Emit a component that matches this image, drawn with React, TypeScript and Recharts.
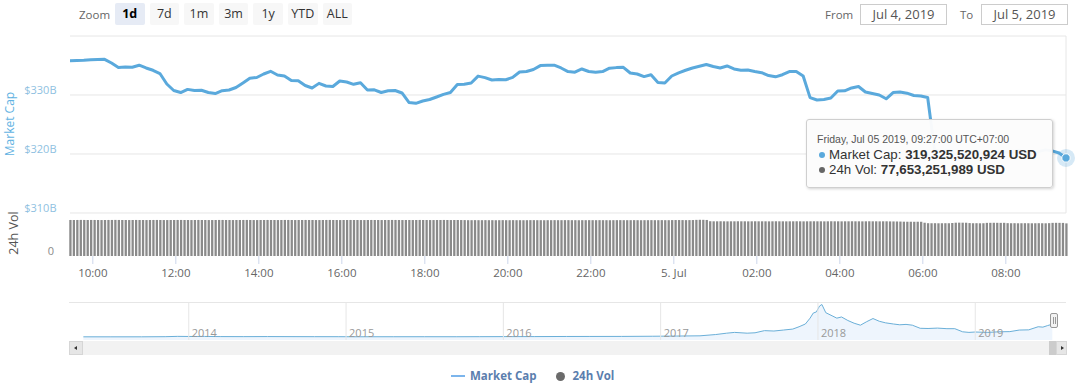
import React from 'react';
import {
  ComposedChart,
  Line,
  Bar,
  XAxis,
  YAxis,
  ReferenceLine,
  AreaChart,
  Area,
} from 'recharts';

// ---------- DATA ----------
// time axis: minutes since Jul 4 2019 00:00, 5-minute samples from 09:27
const START_MINUTE = 567;
const STEP_MINUTES = 5;

// Market cap (billions USD), one value every 10 minutes
const marketCapB = [
  335.81, 335.85, 335.88, 335.97, 336.03, 336.05, 335.42, 334.66, 334.75, 334.71,
  335.05, 334.58, 334.19, 333.64, 331.86, 330.76, 330.42, 330.95, 330.76, 330.8,
  330.42, 330.25, 330.73, 330.85, 331.27, 332.03, 332.85, 332.97, 333.56, 334.02,
  333.39, 333.22, 332.46, 332.42, 331.61, 331.19, 331.97, 331.53, 331.44, 332.37,
  332.2, 331.81, 332.07, 330.85, 330.88, 330.42, 330.71, 330.76, 330.34, 328.73,
  328.59, 328.98, 329.24, 329.66, 330.1, 330.42, 331.78, 331.83, 332.03, 333.2,
  332.95, 332.54, 332.63, 332.59, 332.98, 333.9, 333.98, 334.32, 334.98, 335.05,
  335.05, 334.58, 333.97, 333.86, 334.41, 333.98, 333.85, 333.97, 334.54, 334.64,
  334.69, 333.73, 333.56, 333.12, 333.42, 332.12, 332.03, 333.22, 333.76, 334.19,
  334.58, 334.88, 335.17, 334.83, 334.58, 334.92, 334.41, 334.19, 334.24, 333.98,
  333.78, 333.29, 333.08, 333.44, 333.97, 333.98, 333.22, 329.56, 329.15, 329.24,
  329.49, 330.68, 330.71, 331.19, 331.44, 330.51, 330.25, 330.0, 329.36, 330.42,
  330.51, 330.31, 329.92, 329.83, 329.58, 320.68, 320.3, 320.6, 320.1, 319.8,
  320.2, 320.5, 320.0, 319.7, 320.1, 320.4, 320.2, 320.6, 320.3, 320.0,
  320.4, 320.7, 320.54, 320.17, 319.33,
];

// 24h volume (billions USD), one value every 5 minutes
const volumeB = [
  85.8, 85.7, 85.8, 85.9, 85.8, 85.7, 85.8, 85.8, 85.7, 85.6, 85.7, 85.8, 85.8, 85.9, 85.8, 85.7, 85.7,
  85.6, 85.7, 85.8, 85.7, 85.7, 85.6, 85.7, 85.8, 85.8, 85.7, 85.6, 85.6, 85.7, 85.7, 85.8, 85.8, 85.7,
  85.7, 85.6, 85.7, 85.8, 85.7, 85.7, 85.6, 85.6, 85.7, 85.8, 85.8, 85.7, 85.7, 85.6, 85.7, 85.7, 85.8,
  85.8, 85.7, 85.6, 85.6, 85.7, 85.7, 85.8, 85.7, 85.7, 85.6, 85.7, 85.8, 85.8, 85.7, 85.6, 85.7, 85.7,
  85.8, 85.7, 85.7, 85.6, 85.6, 85.7, 85.8, 85.8, 85.7, 85.7, 85.6, 85.7, 85.7, 85.8, 85.7, 85.7, 85.6,
  85.6, 85.7, 85.8, 85.7, 85.7, 85.6, 85.7, 85.7, 85.8, 85.8, 85.7, 85.6, 85.7, 85.7, 85.6, 85.7, 85.8,
  85.7, 85.7, 85.6, 85.6, 85.7, 85.7, 85.8, 85.7, 85.6, 85.7, 85.7, 85.6, 85.5, 85.3, 85.3, 85.4, 85.3,
  85.3, 85.4, 85.3, 85.3, 85.2, 85.3, 85.4, 85.3, 85.3, 85.4, 85.3, 85.3, 85.2, 85.3, 85.4, 85.4, 85.3,
  85.3, 85.2, 85.3, 85.3, 85.4, 85.3, 85.3, 85.4, 85.4, 85.3, 85.3, 85.2, 85.3, 85.3, 85.4, 85.3, 85.3,
  85.4, 85.3, 85.3, 85.2, 85.3, 85.4, 85.4, 85.3, 85.3, 85.3, 85.4, 85.3, 85.2, 85.3, 85.3, 85.4, 85.3,
  85.3, 85.4, 85.3, 85.3, 85.5, 85.6, 85.6, 85.5, 85.4, 85.5, 85.6, 86.0, 86.2, 86.1, 85.8, 82.8, 82.6,
  82.6, 82.7, 82.6, 82.5, 82.6, 82.6, 82.7, 82.6, 82.6, 82.5, 82.6, 82.7, 82.6, 82.6, 82.6, 82.5, 82.6,
  82.7, 82.6, 82.6, 82.5, 82.6, 82.6, 82.7, 82.6, 82.5, 82.6, 82.6, 82.7, 82.6, 82.6, 82.5, 82.6, 82.7,
  82.6, 82.6, 82.5, 82.6, 82.6, 82.7, 82.6, 82.6, 82.5, 82.6, 82.7, 82.6, 82.6, 82.5, 82.6, 82.6, 82.4,
  82.3, 82.2, 82.0, 81.7, 81.6, 81.6, 81.5, 81.6, 81.5, 79.2, 78.1, 78.0, 78.1, 77.9, 78.0, 78.1, 78.0,
  78.6, 79.3, 79.4, 79.3, 79.2, 78.4, 78.0, 78.1, 77.9, 78.0, 78.9, 79.0, 79.1, 79.0, 78.9, 79.0, 78.2,
  78.0, 78.1, 77.9, 78.0, 78.1, 78.0, 77.9, 78.0, 78.1, 78.0, 77.9, 78.2, 78.9, 79.0, 78.9, 78.8, 77.7,
];

const timeTicks = [600, 720, 840, 960, 1080, 1200, 1320, 1440, 1560, 1680, 1800, 1920];
const timeTickLabels = ['10:00', '12:00', '14:00', '16:00', '18:00', '20:00', '22:00', '5. Jul', '02:00', '04:00', '06:00', '08:00'];
const priceGridValues = [340, 330, 320, 310];
const priceGridLabels = ['', '$330B', '$320B', '$310B'];
const volTickValue = 0;
const volTickLabel = '0';

// Navigator: total market cap history (year fraction, billions USD)
const navYears = [
  2013.33, 2013.5, 2013.7, 2013.85, 2013.93, 2014.0, 2014.1, 2014.2, 2014.35, 2014.5,
  2014.65, 2014.8, 2014.95, 2015.05, 2015.3, 2015.5, 2015.7, 2015.85, 2016.0, 2016.2,
  2016.4, 2016.55, 2016.75, 2016.95, 2017.1, 2017.25, 2017.35, 2017.42, 2017.47, 2017.55,
  2017.6, 2017.66, 2017.72, 2017.78, 2017.84, 2017.88, 2017.92, 2017.95, 2017.97, 2017.99,
  2018.01, 2018.025, 2018.05, 2018.09, 2018.12, 2018.15, 2018.19, 2018.23, 2018.27, 2018.31,
  2018.35, 2018.39, 2018.43, 2018.48, 2018.52, 2018.56, 2018.6, 2018.65, 2018.7, 2018.76,
  2018.82, 2018.87, 2018.92, 2018.96, 2019.0, 2019.08, 2019.15, 2019.22, 2019.28, 2019.34,
  2019.4, 2019.43, 2019.46, 2019.49,
];
const navCapB = [
  1.5, 1.2, 1.6, 5.0, 13.0, 10.5, 11.0, 7.5, 6.5, 7.8,
  6.5, 5.2, 4.5, 3.2, 3.4, 3.7, 3.5, 5.2, 6.8, 7.5,
  10.5, 11.0, 12.0, 16.5, 21, 27, 60, 95, 115, 95,
  105, 160, 150, 175, 200, 260, 330, 480, 610, 640,
  790, 830, 620, 540, 480, 510, 420, 350, 300, 390,
  470, 400, 360, 330, 310, 320, 300, 220, 215, 225,
  210, 210, 130, 115, 125, 115, 130, 135, 175, 180,
  260, 250, 290, 325,
];
const navYearTicks = [2014, 2015, 2016, 2017, 2018, 2019];

const rangeButtons = ['1d', '7d', '1m', '3m', '1y', 'YTD', 'ALL'];
const selectedRange = '1d';

// ---------- STYLE ----------
const FONT = '"Open Sans", "DejaVu Sans", sans-serif';
const TIP_FONT = '"Liberation Sans", Arial, sans-serif';
const LINE = '#5aa9dc';
const BAR = '#8a8a8a';
const GRID = '#e6e6e6';

const mainData = volumeB.map((v, i) => ({
  t: START_MINUTE + i * STEP_MINUTES,
  vol: v,
  mcap: i % 2 === 0 ? marketCapB[i / 2] : null,
}));
const LAST = mainData.length - 1;
const navData = navYears.map((y, i) => ({ year: y, cap: navCapB[i] }));

const sideLabel = (text: string, color: string, dy: number, dx: number) => (props: any) => {
  const vb = props.viewBox || {};
  if (!text) return <g />;
  return (
    <text x={(vb.x ?? 70) - dx} y={(vb.y ?? 0) - dy} textAnchor="end" dominantBaseline="central" fill={color} fontSize={11} fontFamily={FONT}>
      {text}
    </text>
  );
};

const renderDot = (p: any) => {
  if (p.index !== LAST || p.cx == null || p.cy == null) return <g key={`d${p.index}`} />;
  return (
    <g key="last-dot">
      <circle cx={p.cx} cy={p.cy} r={9} fill={LINE} fillOpacity={0.25} />
      <circle cx={p.cx} cy={p.cy} r={4.2} fill={LINE} stroke="#fff" strokeWidth={1} />
    </g>
  );
};

const abs = (s: React.CSSProperties): React.CSSProperties => ({ position: 'absolute', ...s });

const Bullet = ({ color, top }: { color: string; top: number }) => (
  <div style={abs({ left: 11.5, top, width: 6, height: 6, borderRadius: '50%', background: color })} />
);

export default function App() {
  return (
    <div style={abs({ left: 0, top: 0, width: 1080, height: 384, background: '#fff', fontFamily: FONT, overflow: 'hidden' })}>
      {/* main chart: price + volume panes */}
      <div style={abs({ left: 0, top: 0 })}>
        <ComposedChart width={1080} height={280} data={mainData} margin={{ top: 36, right: 14, bottom: 0, left: 70 }}>
          <XAxis
            dataKey="t"
            type="number"
            domain={[567, 2007]}
            ticks={timeTicks}
            interval={0}
            tickFormatter={(v: number) => timeTickLabels[timeTicks.indexOf(v)]}
            height={24}
            tickSize={8}
            tickMargin={5}
            axisLine={false}
            tickLine={{ stroke: '#ccd6eb' }}
            tick={{ fill: '#666', fontSize: 11.5, fontFamily: FONT }}
          />
          <YAxis yAxisId="p" type="number" domain={[302.71, 340]} ticks={priceGridValues} hide />
          <YAxis yAxisId="v" type="number" domain={[0, 523.8]} ticks={[volTickValue]} hide />
          {priceGridValues.map((v, i) => (
            <ReferenceLine
              key={v}
              yAxisId="p"
              y={v}
              stroke={GRID}
              strokeWidth={1}
              label={sideLabel(priceGridLabels[i], '#8fc1e1', 5.5, 13.5)}
            />
          ))}
          <ReferenceLine
            yAxisId="v"
            y={volTickValue}
            stroke="none"
            strokeOpacity={0}
            label={sideLabel(volTickLabel, '#8a8a8a', 6, 16)}
          />
          <ReferenceLine yAxisId="p" segment={[{ x: 2007, y: 310 }, { x: 2007, y: 340 }]} stroke={GRID} strokeWidth={1} />
          <Bar yAxisId="v" dataKey="vol" fill={BAR} barSize={2.3} isAnimationActive={false} />
          <Line
            yAxisId="p"
            dataKey="mcap"
            type="linear"
            stroke={LINE}
            strokeWidth={3}
            strokeLinejoin="round"
            connectNulls
            dot={renderDot}
            activeDot={false}
            isAnimationActive={false}
          />
        </ComposedChart>
      </div>

      {/* axis titles */}
      <div style={abs({ left: 10 - 60, top: 124 - 8, width: 120, height: 16, lineHeight: '16px', textAlign: 'center', transform: 'rotate(-90deg)', color: '#62b2e2', fontSize: 12 })}>
        Market Cap
      </div>
      <div style={abs({ left: 14 - 40, top: 233 - 9, width: 80, height: 18, lineHeight: '18px', textAlign: 'center', transform: 'rotate(-90deg)', color: '#555', fontSize: 12.5 })}>
        24h Vol
      </div>

      {/* range selector */}
      <div style={abs({ left: 79, top: 6, lineHeight: '17px', fontSize: 11.5, color: '#666' })}>Zoom</div>
      {rangeButtons.map((b, i) => (
        <div
          key={b}
          style={abs({
            left: 115 + i * 34.6,
            top: 3,
            width: 29.5,
            height: 22,
            lineHeight: '22px',
            textAlign: 'center',
            background: b === selectedRange ? '#e6ebf5' : '#f7f7f7',
            borderRadius: 2,
            fontSize: 12.5,
            fontWeight: b === selectedRange ? 700 : 400,
            color: b === selectedRange ? '#000' : '#333',
          })}
        >
          {b}
        </div>
      ))}

      {/* date inputs */}
      <div style={abs({ left: 825, top: 6, lineHeight: '17px', fontSize: 11.5, color: '#666' })}>From</div>
      <div style={abs({ left: 860, top: 4, width: 87, height: 21, boxSizing: 'border-box', border: '1px solid #cccccc', lineHeight: '19px', textAlign: 'center', fontSize: 13, color: '#555' })}>
        Jul 4, 2019
      </div>
      <div style={abs({ left: 960, top: 6, lineHeight: '17px', fontSize: 11.5, color: '#666' })}>To</div>
      <div style={abs({ left: 981, top: 4, width: 87, height: 21, boxSizing: 'border-box', border: '1px solid #cccccc', lineHeight: '19px', textAlign: 'center', fontSize: 13, color: '#555' })}>
        Jul 5, 2019
      </div>

      {/* tooltip */}
      <div style={abs({ left: 806, top: 119, width: 247, height: 69, boxSizing: 'border-box', background: 'rgba(252,252,252,0.97)', border: '1px solid #cfcfcf', borderRadius: 3, boxShadow: '1px 1px 3px rgba(0,0,0,0.18)', fontFamily: TIP_FONT })}>
        <div style={abs({ left: 10, top: 13, lineHeight: '13px', fontSize: 10.5, color: '#555', whiteSpace: 'nowrap' })}>
          Friday, Jul 05 2019, 09:27:00 UTC+07:00
        </div>
        <Bullet color={LINE} top={31.5} />
        <div style={abs({ left: 22, top: 27.5, lineHeight: '14px', fontSize: 13.3, color: '#333', whiteSpace: 'nowrap' })}>
          Market Cap: <b>319,325,520,924 USD</b>
        </div>
        <Bullet color="#666" top={47} />
        <div style={abs({ left: 22, top: 43, lineHeight: '14px', fontSize: 13.3, color: '#333', whiteSpace: 'nowrap' })}>
          24h Vol: <b>77,653,251,989 USD</b>
        </div>
      </div>

      {/* navigator */}
      <div style={abs({ left: 69, top: 302, width: 997, height: 1, background: GRID })} />
      <div style={abs({ left: 0, top: 302 })}>
        <AreaChart width={1080} height={38} data={navData} margin={{ top: 0, right: 14, bottom: 0, left: 70 }}>
          <XAxis dataKey="year" type="number" domain={[2013.245, 2019.577]} ticks={navYearTicks} hide />
          <YAxis type="number" domain={[-80, 894]} ticks={[0]} hide />
          {navYearTicks.map((y) => (
            <ReferenceLine
              key={y}
              x={y}
              stroke={GRID}
              label={{ value: String(y), position: 'insideBottomLeft', offset: 3, fill: '#999', fontSize: 11, fontFamily: FONT }}
            />
          ))}
          <Area
            dataKey="cap"
            type="linear"
            baseValue="dataMin"
            stroke="#6aafd8"
            strokeWidth={1}
            fill="#7cb5ec"
            fillOpacity={0.13}
            dot={false}
            activeDot={false}
            isAnimationActive={false}
          />
        </AreaChart>
      </div>

      {/* navigator handle */}
      <div style={abs({ left: 1050, top: 313, width: 8, height: 15, boxSizing: 'border-box', background: '#f2f2f2', border: '1px solid #999', borderRadius: 2 })}>
        <div style={abs({ left: 2, top: 3, width: 1, height: 7, background: '#999' })} />
        <div style={abs({ left: 4, top: 3, width: 1, height: 7, background: '#999' })} />
      </div>

      {/* scrollbar */}
      <div style={abs({ left: 69, top: 341, width: 997, height: 14, background: '#f2f2f2' })} />
      <div style={abs({ left: 69, top: 341, width: 14, height: 14, boxSizing: 'border-box', background: '#e6e6e6', border: '1px solid #d6d6d6' })}>
        <div style={abs({ left: 4, top: 4, width: 0, height: 0, borderTop: '2.5px solid transparent', borderBottom: '2.5px solid transparent', borderRight: '3px solid #333' })} />
      </div>
      <div style={abs({ left: 1049, top: 341, width: 7, height: 14, background: '#cccccc' })} />
      <div style={abs({ left: 1056, top: 341, width: 11, height: 14, boxSizing: 'border-box', background: '#e6e6e6', border: '1px solid #d6d6d6' })}>
        <div style={abs({ left: 4, top: 4, width: 0, height: 0, borderTop: '2.5px solid transparent', borderBottom: '2.5px solid transparent', borderLeft: '3px solid #333' })} />
      </div>

      {/* legend */}
      <div style={abs({ left: 451, top: 375, width: 14, height: 2, background: '#7cb5ec' })} />
      <div style={abs({ left: 470, top: 368, lineHeight: '16px', fontSize: 11.5, fontWeight: 700, color: '#5b7eae', whiteSpace: 'nowrap' })}>Market Cap</div>
      <div style={abs({ left: 555.5, top: 371.5, width: 9, height: 9, borderRadius: '50%', background: '#6b6b6b' })} />
      <div style={abs({ left: 572.5, top: 368, lineHeight: '16px', fontSize: 11.5, fontWeight: 700, color: '#5b7eae', whiteSpace: 'nowrap' })}>24h Vol</div>
    </div>
  );
}
